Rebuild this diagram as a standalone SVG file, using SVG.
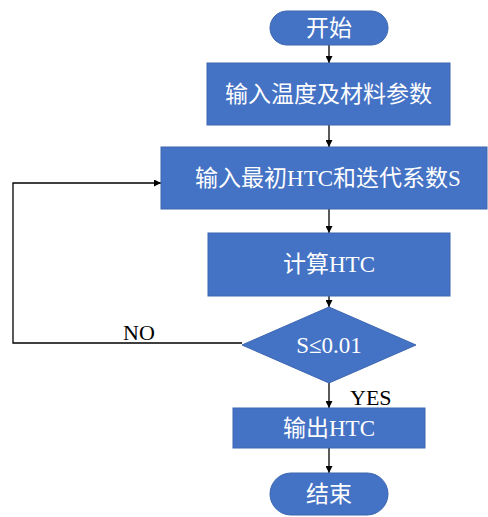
<svg xmlns="http://www.w3.org/2000/svg" width="488" height="517" viewBox="0 0 488 517">
<style>
.n{fill:#4472C4;stroke:#3C66B1;stroke-width:1}
.t{fill:#fff;font-family:"Liberation Serif","Noto Sans CJK SC",serif;font-size:23px;text-anchor:middle}
.l{fill:#000;font-family:"Liberation Serif",serif;font-size:22px}
.c{fill:none;stroke:#000;stroke-width:1.3}
</style>
<defs>
<marker id="a" viewBox="0 0 10 10" refX="10" refY="5" markerWidth="7" markerHeight="7" orient="auto" markerUnits="userSpaceOnUse"><path d="M0,0L10,5L0,10z" fill="#000"/></marker>
</defs>
<rect width="488" height="517" fill="#fff"/>
<g id="connectors">
<path class="c" d="M329,45V63" marker-end="url(#a)"/>
<path class="c" d="M329,125V147" marker-end="url(#a)"/>
<path class="c" d="M329,209V233" marker-end="url(#a)"/>
<path class="c" d="M329,296V307" marker-end="url(#a)"/>
<path class="c" d="M329,383V408" marker-end="url(#a)"/>
<path class="c" d="M329,448V473" marker-end="url(#a)"/>
<path class="c" d="M242,343H13V183H161" marker-end="url(#a)"/>
<text class="l" x="123" y="340">NO</text>
<text class="l" x="350" y="405">YES</text>
</g>
<g id="start"><rect class="n" x="270" y="11" width="118" height="34" rx="17"/><text class="t" x="329" y="36">开始</text></g>
<g id="input1"><rect class="n" x="207" y="63" width="243" height="62"/><text class="t" x="328.5" y="102">输入温度及材料参数</text></g>
<g id="input2"><rect class="n" x="161" y="147" width="326" height="62"/><text class="t" x="328" y="186">输入最初HTC和迭代系数S</text></g>
<g id="calc"><rect class="n" x="208" y="233" width="242" height="63"/><text class="t" x="329" y="272">计算HTC</text></g>
<g id="decision"><polygon class="n" points="329,307 416,345 329,383 242,345"/><text class="t" x="329" y="353">S≤0.01</text></g>
<g id="output"><rect class="n" x="233" y="408" width="192" height="40"/><text class="t" x="329" y="436">输出HTC</text></g>
<g id="end"><rect class="n" x="270" y="473" width="118" height="42" rx="21"/><text class="t" x="329" y="502">结束</text></g>
</svg>
